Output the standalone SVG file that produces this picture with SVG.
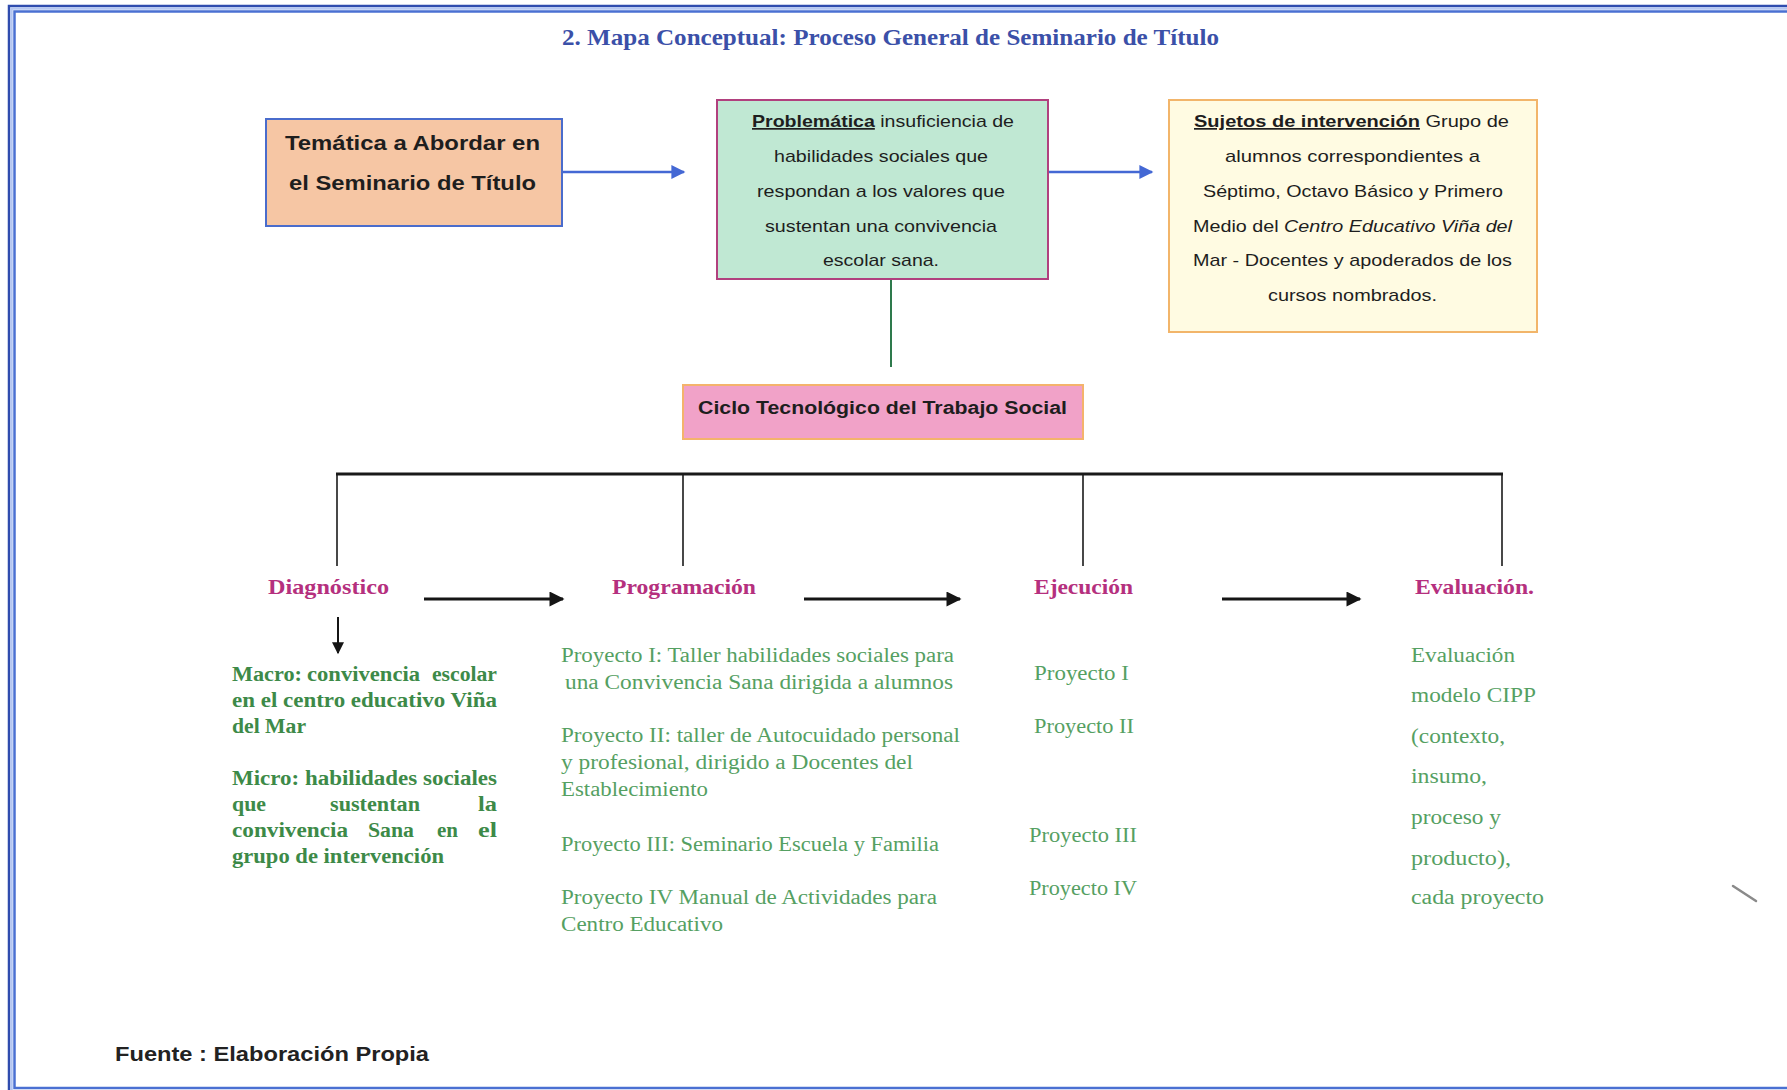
<svg xmlns="http://www.w3.org/2000/svg" width="1787" height="1090" viewBox="0 0 1787 1090">
<defs>
<style>
.sans{font-family:"Liberation Sans",Arial,sans-serif}
.serif{font-family:"Liberation Serif","Times New Roman",serif}
.boxtxt{font-family:"Liberation Sans",Arial,sans-serif;font-size:17px;fill:#1e1e1e}
.lbl{font-family:"Liberation Serif","Times New Roman",serif;font-weight:bold;font-size:21px;fill:#b5307e}
.diag{font-family:"Liberation Serif","Times New Roman",serif;font-weight:bold;font-size:20px;fill:#3d8a48}
.proj{font-family:"Liberation Serif","Times New Roman",serif;font-size:20px;fill:#55a062}
.blk{stroke:#1a1a1a;fill:none}
</style>
<marker id="blueHead" viewBox="0 0 10 10" refX="9" refY="5" markerWidth="16" markerHeight="14" orient="auto" markerUnits="userSpaceOnUse">
<path d="M0,0 L10,5 L0,10 z" fill="#4468d4"/>
</marker>
<marker id="blackHead" viewBox="0 0 10 10" refX="9" refY="5" markerWidth="16" markerHeight="15" orient="auto" markerUnits="userSpaceOnUse">
<path d="M0,0 L10,5 L0,10 z" fill="#151515"/>
</marker>
<marker id="blackDown" viewBox="0 0 10 10" refX="9" refY="5" markerWidth="14" markerHeight="12" orient="auto" markerUnits="userSpaceOnUse">
<path d="M0,0 L10,5 L0,10 z" fill="#151515"/>
</marker>
</defs>
<rect width="1787" height="1090" fill="#ffffff"/>
<g id="frame">
<rect x="9" y="6" width="1800" height="1100" fill="none" stroke="#2f4cae" stroke-width="2.5"/>
<rect x="11.5" y="8.5" width="1800" height="1100" fill="none" stroke="#b4c6f2" stroke-width="2.5"/>
<rect x="14.5" y="11.5" width="1790" height="1076.5" fill="none" stroke="#4a70d2" stroke-width="2.5"/>
</g>
<g id="title">
<text class="serif" x="562" y="45" font-size="23" font-weight="bold" fill="#3b50a8" textLength="657" lengthAdjust="spacingAndGlyphs">2. Mapa Conceptual: Proceso General de Seminario de Título</text>
</g>
<g id="node-tematica">
<rect x="266" y="119" width="296" height="107" fill="#f6c6a4" stroke="#4a6ccc" stroke-width="2"/>
<text class="sans" x="285" y="150" font-size="21" font-weight="bold" fill="#1e1e1e" textLength="255" lengthAdjust="spacingAndGlyphs">Temática a Abordar en</text>
<text class="sans" x="289" y="190" font-size="21" font-weight="bold" fill="#1e1e1e" textLength="247" lengthAdjust="spacingAndGlyphs">el Seminario de Título</text>
</g>
<g id="node-problematica">
<rect x="717" y="100" width="331" height="179" fill="#c0e8d3" stroke="#b1407e" stroke-width="2"/>
<text class="boxtxt" x="752" y="127" textLength="262" lengthAdjust="spacingAndGlyphs"><tspan font-weight="bold" text-decoration="underline">Problemática</tspan> insuficiencia de</text>
<text class="boxtxt" x="774" y="162" textLength="214" lengthAdjust="spacingAndGlyphs">habilidades sociales que</text>
<text class="boxtxt" x="757" y="197" textLength="248" lengthAdjust="spacingAndGlyphs">respondan a los valores que</text>
<text class="boxtxt" x="765" y="232" textLength="232" lengthAdjust="spacingAndGlyphs">sustentan una convivencia</text>
<text class="boxtxt" x="823" y="266" textLength="116" lengthAdjust="spacingAndGlyphs">escolar sana.</text>
</g>
<g id="node-sujetos">
<rect x="1169" y="100" width="368" height="232" fill="#fffbe2" stroke="#f2b56a" stroke-width="2"/>
<text class="boxtxt" x="1194" y="127" textLength="315" lengthAdjust="spacingAndGlyphs"><tspan font-weight="bold" text-decoration="underline">Sujetos de intervención</tspan>  Grupo de</text>
<text class="boxtxt" x="1225" y="162" textLength="255" lengthAdjust="spacingAndGlyphs">alumnos correspondientes  a</text>
<text class="boxtxt" x="1203" y="196.5" textLength="300" lengthAdjust="spacingAndGlyphs">Séptimo, Octavo Básico y Primero</text>
<text class="boxtxt" x="1193" y="232" textLength="319" lengthAdjust="spacingAndGlyphs">Medio del <tspan font-style="italic">Centro Educativo Viña del</tspan></text>
<text class="boxtxt" x="1193" y="266" textLength="319" lengthAdjust="spacingAndGlyphs">Mar - Docentes y apoderados de los</text>
<text class="boxtxt" x="1268" y="301" textLength="169" lengthAdjust="spacingAndGlyphs">cursos nombrados.</text>
</g>
<g id="node-ciclo">
<rect x="683" y="385" width="400" height="54" fill="#f1a2c8" stroke="#f4b36c" stroke-width="2"/>
<text class="sans" x="698" y="414" font-size="18" font-weight="bold" fill="#1e1e1e" textLength="369" lengthAdjust="spacingAndGlyphs">Ciclo Tecnológico del Trabajo Social</text>
</g>
<g id="node-diagnostico">
<text class="lbl" x="268" y="594" textLength="121" lengthAdjust="spacingAndGlyphs">Diagnóstico</text>
<text class="diag" x="232" y="681" textLength="70" lengthAdjust="spacingAndGlyphs">Macro:</text>
<text class="diag" x="307" y="681" textLength="113" lengthAdjust="spacingAndGlyphs">convivencia</text>
<text class="diag" x="432" y="681" textLength="65" lengthAdjust="spacingAndGlyphs">escolar</text>
<text class="diag" x="232" y="707" textLength="265" lengthAdjust="spacingAndGlyphs">en el centro educativo Viña</text>
<text class="diag" x="232" y="733" textLength="74" lengthAdjust="spacingAndGlyphs">del Mar</text>
<text class="diag" x="232" y="785" textLength="265" lengthAdjust="spacingAndGlyphs">Micro: habilidades sociales</text>
<text class="diag" x="232" y="811" textLength="34" lengthAdjust="spacingAndGlyphs">que</text>
<text class="diag" x="330" y="811" textLength="90" lengthAdjust="spacingAndGlyphs">sustentan</text>
<text class="diag" x="478" y="811" textLength="19" lengthAdjust="spacingAndGlyphs">la</text>
<text class="diag" x="232" y="837" textLength="116" lengthAdjust="spacingAndGlyphs">convivencia</text>
<text class="diag" x="368" y="837" textLength="46" lengthAdjust="spacingAndGlyphs">Sana</text>
<text class="diag" x="437" y="837" textLength="21" lengthAdjust="spacingAndGlyphs">en</text>
<text class="diag" x="478" y="837" textLength="19" lengthAdjust="spacingAndGlyphs">el</text>
<text class="diag" x="232" y="863" textLength="212" lengthAdjust="spacingAndGlyphs">grupo de intervención</text>
</g>
<g id="node-programacion">
<text class="lbl" x="612" y="594" textLength="144" lengthAdjust="spacingAndGlyphs">Programación</text>
<text class="proj" x="561" y="662" textLength="393" lengthAdjust="spacingAndGlyphs">Proyecto I: Taller habilidades sociales para</text>
<text class="proj" x="565" y="689" textLength="388" lengthAdjust="spacingAndGlyphs">una Convivencia Sana dirigida a alumnos</text>
<text class="proj" x="561" y="742" textLength="399" lengthAdjust="spacingAndGlyphs">Proyecto II: taller de Autocuidado personal</text>
<text class="proj" x="561" y="769" textLength="352" lengthAdjust="spacingAndGlyphs">y profesional, dirigido a  Docentes del</text>
<text class="proj" x="561" y="796" textLength="147" lengthAdjust="spacingAndGlyphs">Establecimiento</text>
<text class="proj" x="561" y="851" textLength="378" lengthAdjust="spacingAndGlyphs">Proyecto III: Seminario Escuela y Familia</text>
<text class="proj" x="561" y="904" textLength="376" lengthAdjust="spacingAndGlyphs">Proyecto IV Manual de Actividades para</text>
<text class="proj" x="561" y="931" textLength="162" lengthAdjust="spacingAndGlyphs">Centro Educativo</text>
</g>
<g id="node-ejecucion">
<text class="lbl" x="1034" y="594" textLength="99" lengthAdjust="spacingAndGlyphs">Ejecución</text>
<text class="proj" x="1034" y="680" textLength="95" lengthAdjust="spacingAndGlyphs">Proyecto I</text>
<text class="proj" x="1034" y="733" textLength="100" lengthAdjust="spacingAndGlyphs">Proyecto II</text>
<text class="proj" x="1029" y="842" textLength="108" lengthAdjust="spacingAndGlyphs">Proyecto III</text>
<text class="proj" x="1029" y="895" textLength="108" lengthAdjust="spacingAndGlyphs">Proyecto IV</text>
</g>
<g id="node-evaluacion">
<text class="lbl" x="1415" y="594" textLength="119" lengthAdjust="spacingAndGlyphs">Evaluación.</text>
<text class="proj" x="1411" y="662" textLength="104" lengthAdjust="spacingAndGlyphs">Evaluación</text>
<text class="proj" x="1411" y="702" textLength="125" lengthAdjust="spacingAndGlyphs">modelo CIPP</text>
<text class="proj" x="1411" y="743" textLength="94" lengthAdjust="spacingAndGlyphs">(contexto,</text>
<text class="proj" x="1411" y="783" textLength="76" lengthAdjust="spacingAndGlyphs">insumo,</text>
<text class="proj" x="1411" y="824" textLength="90" lengthAdjust="spacingAndGlyphs">proceso y</text>
<text class="proj" x="1411" y="865" textLength="100" lengthAdjust="spacingAndGlyphs">producto),</text>
<text class="proj" x="1411" y="904" textLength="133" lengthAdjust="spacingAndGlyphs">cada proyecto</text>
</g>
<g id="connectors">
<line x1="563" y1="172" x2="684" y2="172" stroke="#4468d4" stroke-width="2.5" marker-end="url(#blueHead)"/>
<line x1="1049" y1="172" x2="1152" y2="172" stroke="#4468d4" stroke-width="2.5" marker-end="url(#blueHead)"/>
<line x1="891" y1="280" x2="891" y2="367" stroke="#2e7a4c" stroke-width="2"/>
<line x1="336" y1="474" x2="1503" y2="474" stroke="#1a1a1a" stroke-width="3"/>
<line x1="337" y1="474" x2="337" y2="566" class="blk" stroke-width="1.6"/>
<line x1="683" y1="474" x2="683" y2="566" class="blk" stroke-width="1.6"/>
<line x1="1083" y1="474" x2="1083" y2="566" class="blk" stroke-width="1.6"/>
<line x1="1502" y1="474" x2="1502" y2="566" class="blk" stroke-width="1.6"/>
<line x1="424" y1="599" x2="563" y2="599" stroke="#151515" stroke-width="3" marker-end="url(#blackHead)"/>
<line x1="804" y1="599" x2="960" y2="599" stroke="#151515" stroke-width="3" marker-end="url(#blackHead)"/>
<line x1="1222" y1="599" x2="1360" y2="599" stroke="#151515" stroke-width="3" marker-end="url(#blackHead)"/>
<line x1="338" y1="617" x2="338" y2="653" stroke="#151515" stroke-width="2" marker-end="url(#blackDown)"/>
</g>
<g id="footer">
<text class="sans" x="115" y="1061" font-size="20" font-weight="bold" fill="#222222" textLength="314" lengthAdjust="spacingAndGlyphs">Fuente : Elaboración Propia</text>
</g>
<line x1="1733" y1="886" x2="1756" y2="901" stroke="#8a8a8a" stroke-width="2.5" stroke-linecap="round"/>
</svg>
